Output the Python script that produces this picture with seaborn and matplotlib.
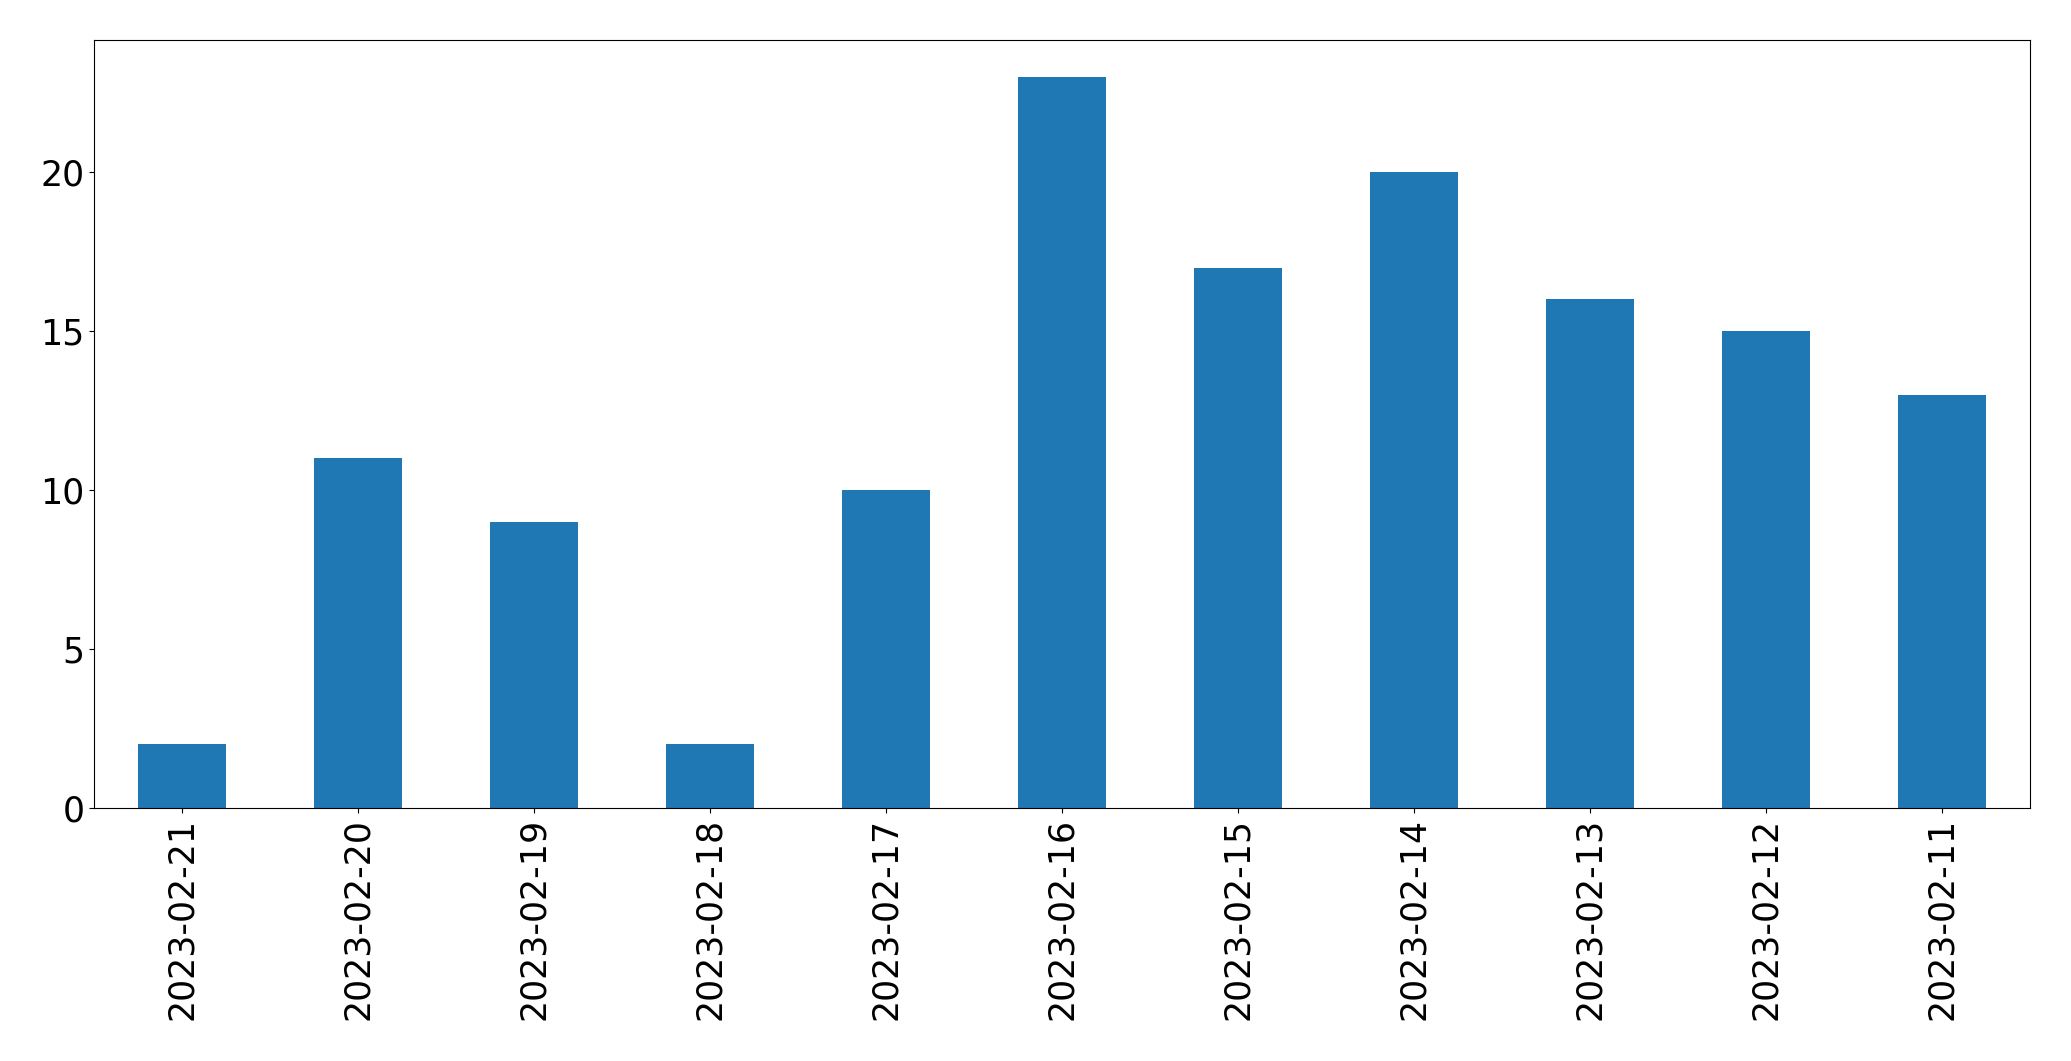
import numpy as np
import pandas as pd
import matplotlib
matplotlib.use('Agg')
import matplotlib.pyplot as plt
import seaborn as sns

dates = ['2023-02-21', '2023-02-20', '2023-02-19', '2023-02-18', '2023-02-17',
         '2023-02-16', '2023-02-15', '2023-02-14', '2023-02-13', '2023-02-12',
         '2023-02-11']
counts = [2, 11, 9, 2, 10, 23, 17, 20, 16, 15, 13]

df = pd.DataFrame({'date': dates, 'count': counts})

fig, ax = plt.subplots(figsize=(20.71, 10.61), dpi=100)
fig.subplots_adjust(left=0.0454, right=0.980, top=0.962, bottom=0.2385)

sns.barplot(data=df, x='date', y='count', order=dates, color='#1f77b4',
            saturation=1, width=0.5, ax=ax)

ax.set_xlim(-0.5, len(dates) - 0.5)
ax.set_ylim(0, max(counts) * 1.05)
ax.set_xlabel('')
ax.set_ylabel('')
ax.tick_params(axis='both', labelsize=25)
ax.tick_params(axis='x', labelrotation=90)

plt.savefig('out.png', dpi=100)
